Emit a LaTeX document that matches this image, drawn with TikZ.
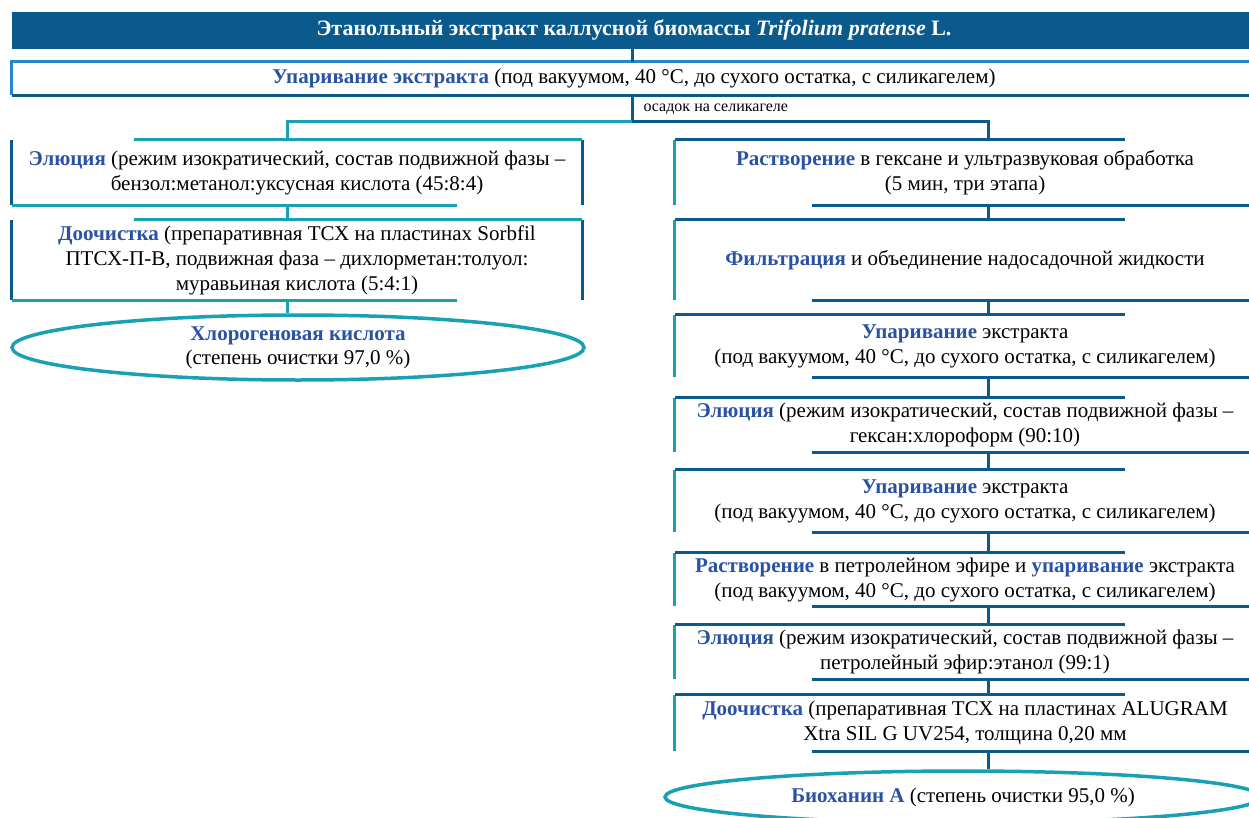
\documentclass[tikz,border=0pt]{standalone}
\usepackage{fontspec}
\setmainfont{Liberation Serif}
\usetikzlibrary{calc}
\usetikzlibrary{shapes,arrows}
\usetikzlibrary{positioning}
\definecolor{dkblue}{HTML}{0B5A8E}
\definecolor{tealc}{HTML}{1AA0B3}
\definecolor{ltblue}{HTML}{2389CC}
\definecolor{kwblue}{HTML}{2A52A3}
\newcommand{\kwd}[1]{\textbf{\color{kwblue}#1}}
\tikzstyle{dline}=[draw=dkblue, line width=3pt]
\tikzstyle{tline}=[draw=tealc, line width=3pt]
\tikzstyle{stepbox}=[align=center, inner sep=0pt, font=\fontsize{21}{25}\selectfont]
\tikzstyle{lbox}=[stepbox, minimum width=570pt]
\tikzstyle{rbox}=[stepbox, minimum width=580pt]
\tikzstyle{result}=[ellipse, draw=tealc, line width=3.5pt, align=center, inner sep=0pt, font=\fontsize{21}{24}\selectfont]
% left column: dark sides, teal top/bottom
\newcommand{\lframe}[1]{%
  \draw[dline] (#1.north west) -- (#1.south west);
  \draw[dline] (#1.north east) -- (#1.south east);
  \draw[tline] ([xshift=122pt]#1.north west) -- (#1.north east);
  \draw[tline] (#1.south west) -- ([xshift=445pt]#1.south west);}
% right column: teal left side, dark top/bottom
\newcommand{\rframe}[1]{%
  \draw[tline] (#1.north west) -- (#1.south west);
  \draw[dline] (#1.north west) -- ([xshift=450pt]#1.north west);
  \draw[dline] ([xshift=137pt]#1.south west) -- (#1.south east);}

\begin{document}
\begin{tikzpicture}[x=1pt,y=-1pt]
\useasboundingbox (0,0) rectangle (1249,818);

\node[stepbox, fill=dkblue, text=white, minimum width=1244pt, minimum height=37pt, font=\fontsize{22}{24}\selectfont] (title) at (634,30.5)
  {\textbf{Этанольный экстракт каллусной биомассы \textit{Trifolium pratense} L.}};
\node[stepbox, minimum width=1244pt, minimum height=33pt] (evap) at (634,78.5)
  {\kwd{Упаривание экстракта} (под вакуумом, 40 °C, до сухого остатка, с силикагелем)};
\draw[ltblue, line width=3pt] (evap.south west) -- (evap.north west) -- (evap.north east);
\draw[dline] (evap.south west) -- (evap.south east);
\node[anchor=west, font=\fontsize{16}{18}\selectfont] (sed) at (640,109) {осадок на селикагеле};
\coordinate (split) at (632,122);

%% left branch
\node[lbox, minimum height=65pt] (l1) at (297,172.5)
  {\kwd{Элюция} (режим изократический, состав подвижной фазы –\\бензол:метанол:уксусная кислота (45:8:4)};
\node[lbox, minimum height=80pt] (l2) at (297,260)
  {\kwd{Доочистка} (препаративная ТСХ на пластинах Sorbfil\\ПТСХ-П-В, подвижная фаза – дихлорметан:толуол:\\муравьиная кислота (5:4:1)};
\node[result, minimum width=572pt, minimum height=65pt] (chlor) at (298,347.5)
  {\kwd{Хлорогеновая кислота}\\(степень очистки 97,0 \%)};
\lframe{l1}
\lframe{l2}

%% right branch
\node[rbox, minimum height=65pt] (r1) at (965,172.5)
  {\kwd{Растворение} в гексане и ультразвуковая обработка\\(5 мин, три этапа)};
\node[rbox, minimum height=80pt] (r2) at (965,260)
  {\kwd{Фильтрация} и объединение надосадочной жидкости};
\node[rbox, minimum height=62pt] (r3) at (965,346)
  {\kwd{Упаривание} экстракта\\(под вакуумом, 40 °C, до сухого остатка, с силикагелем)};
\node[rbox, minimum height=54pt] (r4) at (965,425)
  {\kwd{Элюция} (режим изократический, состав подвижной фазы –\\гексан:хлороформ (90:10)};
\node[rbox, minimum height=62pt] (r5) at (965,501)
  {\kwd{Упаривание} экстракта\\(под вакуумом, 40 °C, до сухого остатка, с силикагелем)};
\node[rbox, minimum height=53pt] (r6) at (965,579.5)
  {\kwd{Растворение} в петролейном эфире и \kwd{упаривание} экстракта\\(под вакуумом, 40 °C, до сухого остатка, с силикагелем)};
\node[rbox, minimum height=54pt] (r7) at (965,652)
  {\kwd{Элюция} (режим изократический, состав подвижной фазы –\\петролейный эфир:этанол (99:1)};
\node[rbox, minimum height=56pt] (r8) at (965,723)
  {\kwd{Доочистка} (препаративная ТСХ на пластинах ALUGRAM\\Xtra SIL G UV254, толщина 0,20 мм};
\node[result, minimum width=596pt, minimum height=52pt] (bioch) at (963,797)
  {\kwd{Биоханин А} (степень очистки 95,0 \%)};
\foreach \n in {r1,r2,r3,r4,r5,r6,r7,r8} {\rframe{\n}}

%% connectors
\draw[dline] (title.south -| split) -- (evap.north -| split);
\draw[dline] (evap.south -| split) -- (split);
\draw[tline] (split) -| ([xshift=-10pt]l1.north);
\draw[dline] (split) -| ([xshift=23pt]r1.north);
\draw[tline] ([xshift=-10pt]l1.south) -- ([xshift=-10pt]l2.north);
\draw[tline] ([xshift=-10pt]l2.south) -- ([xshift=-11pt]chlor.north);
\draw[dline] ([xshift=23pt]r1.south) -- ([xshift=23pt]r2.north);
\draw[dline] ([xshift=23pt]r2.south) -- ([xshift=23pt]r3.north);
\draw[dline] ([xshift=23pt]r3.south) -- ([xshift=23pt]r4.north);
\draw[dline] ([xshift=23pt]r4.south) -- ([xshift=23pt]r5.north);
\draw[dline] ([xshift=23pt]r5.south) -- ([xshift=23pt]r6.north);
\draw[dline] ([xshift=23pt]r6.south) -- ([xshift=23pt]r7.north);
\draw[dline] ([xshift=23pt]r7.south) -- ([xshift=23pt]r8.north);
\draw[dline] ([xshift=23pt]r8.south) -- ([xshift=25pt]bioch.north);

\end{tikzpicture}
\end{document}
